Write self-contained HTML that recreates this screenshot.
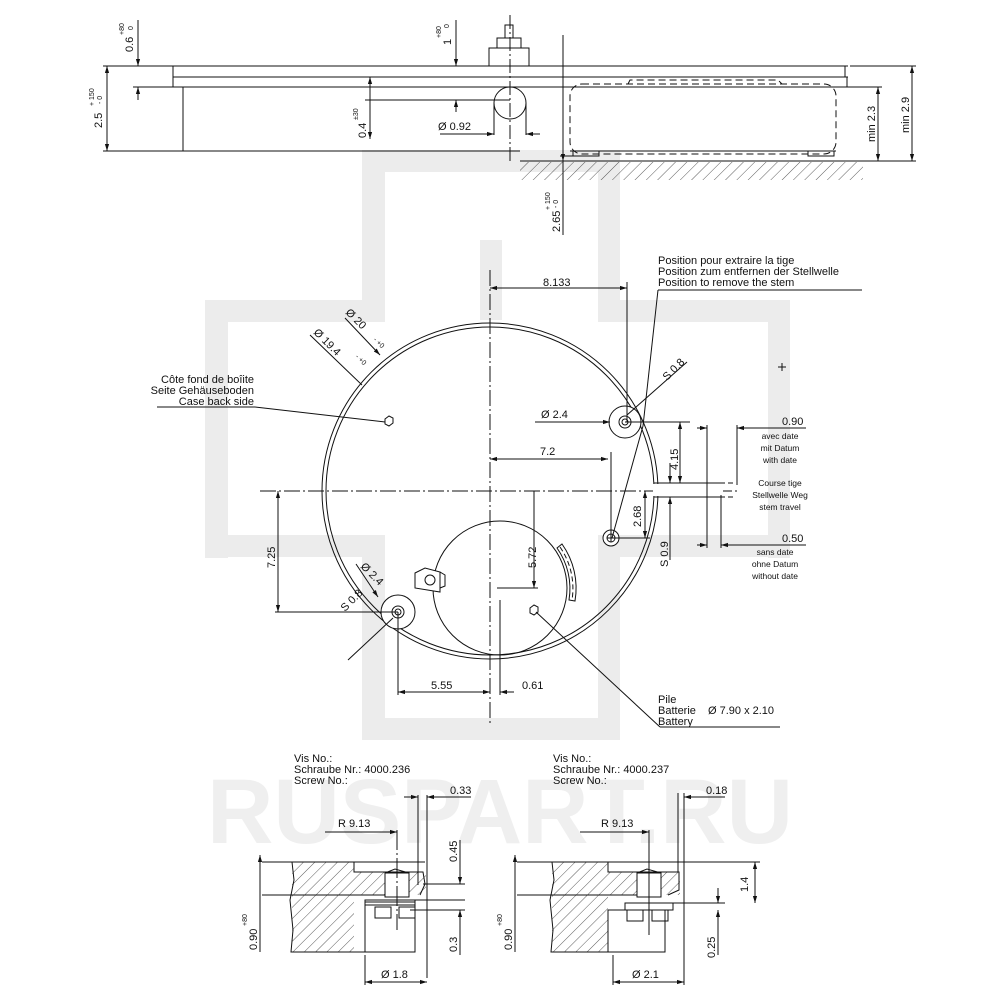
<!DOCTYPE html>
<html><head><meta charset="utf-8"><style>
html,body{margin:0;padding:0;background:#fff}
svg{display:block}
text{font-family:"Liberation Sans",sans-serif;fill:#111}
</style></head><body>
<svg width="1000" height="1000" viewBox="0 0 1000 1000" xmlns="http://www.w3.org/2000/svg">
<defs>
<marker id="a" viewBox="0 0 10 10" refX="10" refY="5" markerWidth="7" markerHeight="7" orient="auto-start-reverse"><path d="M0,2 L10,5 L0,8z" fill="#111"/></marker>
<pattern id="h" width="8" height="8" patternUnits="userSpaceOnUse" patternTransform="rotate(45)"><line x1="0" y1="0" x2="0" y2="8" stroke="#333" stroke-width="0.8"/></pattern>
</defs>
<g fill="#ececec">
<rect x="205" y="300" width="23" height="258"/>
<rect x="205" y="300" width="178" height="22"/>
<rect x="205" y="535" width="178" height="22"/>
<rect x="362" y="150" width="23" height="172"/>
<rect x="362" y="535" width="23" height="205"/>
<rect x="362" y="150" width="258" height="22"/>
<rect x="598" y="150" width="22" height="172"/>
<rect x="598" y="300" width="192" height="22"/>
<rect x="768" y="300" width="22" height="258"/>
<rect x="598" y="535" width="192" height="22"/>
<rect x="598" y="535" width="22" height="205"/>
<rect x="362" y="718" width="258" height="22"/>
<rect x="480" y="240" width="22" height="80"/>
</g>
<text x="500" y="843" text-anchor="middle" font-size="92" font-weight="bold" style="fill:#efefef">RUSPART.RU</text>

<g stroke="#111" stroke-width="1" fill="none">
<line x1="103" y1="66" x2="848" y2="66"/>
<line x1="173" y1="77" x2="848" y2="77"/>
<line x1="133" y1="87" x2="848" y2="87"/>
<line x1="103" y1="151" x2="520" y2="151"/>
<line x1="173" y1="66" x2="173" y2="87"/>
<line x1="183" y1="87" x2="183" y2="151"/>
<line x1="845" y1="66" x2="845" y2="77"/><line x1="847" y1="77" x2="847" y2="87"/>
<rect x="489" y="48" width="40" height="18"/>
<rect x="497" y="38" width="24" height="10"/>
<rect x="505" y="25" width="8" height="13"/>
<line x1="510" y1="15" x2="510" y2="162" stroke-dasharray="14,3,2,3"/>
<circle cx="510" cy="103" r="16"/>
<line x1="494" y1="103" x2="494" y2="135"/><line x1="526" y1="103" x2="526" y2="135"/>
<line x1="440" y1="134" x2="494" y2="134" marker-end="url(#a)"/>
<line x1="540" y1="134" x2="526" y2="134" marker-end="url(#a)"/>
<line x1="365" y1="100" x2="510" y2="100"/>
<line x1="107" y1="66" x2="107" y2="151" marker-start="url(#a)" marker-end="url(#a)"/>
<line x1="138" y1="20" x2="138" y2="66" marker-end="url(#a)"/>
<line x1="138" y1="87" x2="138" y2="100" marker-start="url(#a)"/>
<line x1="456" y1="20" x2="456" y2="66" marker-end="url(#a)"/>
<line x1="456" y1="100" x2="456" y2="112" marker-start="url(#a)"/>
<line x1="370" y1="77" x2="370" y2="139" marker-start="url(#a)" marker-end="url(#a)"/>
<line x1="563" y1="35" x2="563" y2="161" marker-end="url(#a)"/>
<line x1="563" y1="161" x2="563" y2="235"/>
<line x1="560" y1="156" x2="576" y2="156"/>
<rect x="570" y="84" width="266" height="70" rx="12" stroke-dasharray="7,4"/>
<path d="M628,84 L630,80 L778,80 L782,84" stroke-dasharray="7,4"/>
<line x1="570" y1="151" x2="836" y2="151"/>
<rect x="573" y="151" width="26" height="5"/><rect x="808" y="151" width="26" height="5"/>
<line x1="520" y1="161" x2="916" y2="161"/>
<rect x="520" y="162" width="343" height="18" fill="url(#h)" stroke="none"/>
<line x1="838" y1="87" x2="882" y2="87"/><line x1="850" y1="66" x2="916" y2="66"/>
<line x1="878" y1="87" x2="878" y2="161" marker-start="url(#a)" marker-end="url(#a)"/>
<line x1="912" y1="66" x2="912" y2="161" marker-start="url(#a)" marker-end="url(#a)"/>

<!-- MAIN VIEW -->
<line x1="490" y1="270" x2="490" y2="725" stroke-dasharray="16,3,2,3"/>
<line x1="260" y1="491" x2="740" y2="491" stroke-dasharray="16,3,2,3"/>
<circle cx="490" cy="491" r="168"/>
<circle cx="490" cy="491" r="164"/>
<circle cx="500" cy="588" r="67"/>
<path d="M557,548 L562,544 A76,76 0 0 1 575,601 L569,600 A70,70 0 0 0 557,548z" fill="#fff"/>
<path d="M560,547 A73,73 0 0 1 572,600" stroke-dasharray="5,3"/>
<path d="M415,573 L425,568 L440,572 L440,592 L415,588z" fill="#fff"/><circle cx="430" cy="580" r="5"/>
<path d="M440,572 L445,575 L445,586 L440,588"/>
<circle cx="625" cy="422" r="16" fill="#fff"/>
<circle cx="625" cy="422" r="6"/><circle cx="625" cy="422" r="3"/>
<circle cx="398" cy="612" r="17" fill="#fff"/>
<circle cx="398" cy="612" r="6"/><circle cx="398" cy="612" r="3"/>
<circle cx="611" cy="538" r="8" fill="#fff"/><circle cx="611" cy="538" r="4"/>
<line x1="607" y1="538" x2="615" y2="538"/><line x1="611" y1="534" x2="611" y2="542"/>
<path d="M385,419 l4,-3 l4,2 l0,5 l-4,3 l-4,-2z"/>
<path d="M530,608 l4,-3 l4,2 l0,5 l-4,3 l-4,-2z"/>
<rect x="653" y="484" width="70" height="12" fill="#fff" stroke="none"/>
<line x1="654" y1="483" x2="720" y2="483"/><line x1="654" y1="497" x2="720" y2="497"/>
<line x1="720" y1="483" x2="735" y2="483" stroke-dasharray="5,3"/><line x1="720" y1="497" x2="735" y2="497" stroke-dasharray="5,3"/>
<line x1="490" y1="288" x2="627" y2="288" marker-start="url(#a)" marker-end="url(#a)"/>
<line x1="627" y1="282" x2="627" y2="422"/>
<line x1="490" y1="459" x2="608" y2="459" marker-start="url(#a)" marker-end="url(#a)"/>
<line x1="611" y1="452" x2="611" y2="536"/>
<line x1="535" y1="422" x2="610" y2="422" marker-end="url(#a)"/>
<line x1="625" y1="422" x2="690" y2="422"/>
<line x1="680" y1="422" x2="680" y2="483" marker-start="url(#a)" marker-end="url(#a)"/>
<line x1="614" y1="538" x2="650" y2="538"/>
<line x1="645" y1="491" x2="645" y2="538" marker-start="url(#a)" marker-end="url(#a)"/>
<line x1="670" y1="463" x2="670" y2="483" marker-end="url(#a)"/>
<line x1="670" y1="497" x2="670" y2="560" marker-start="url(#a)"/>
<line x1="707" y1="425" x2="707" y2="548"/><line x1="737" y1="425" x2="737" y2="485"/>
<line x1="721" y1="495" x2="721" y2="548"/>
<line x1="697" y1="428" x2="707" y2="428" marker-end="url(#a)"/>
<line x1="806" y1="428" x2="737" y2="428" marker-end="url(#a)"/>
<line x1="697" y1="545" x2="707" y2="545" marker-end="url(#a)"/>
<line x1="806" y1="545" x2="721" y2="545" marker-end="url(#a)"/>
<line x1="643" y1="426" x2="658" y2="290"/><line x1="658" y1="290" x2="862" y2="290"/>
<line x1="612" y1="538" x2="643" y2="426"/>
<line x1="627" y1="415" x2="687" y2="362"/>
<line x1="278" y1="491" x2="278" y2="612" marker-start="url(#a)" marker-end="url(#a)"/>
<line x1="275" y1="612" x2="398" y2="612"/>
<line x1="398" y1="612" x2="398" y2="695"/>
<line x1="398" y1="692" x2="490" y2="692" marker-start="url(#a)" marker-end="url(#a)"/>
<line x1="500" y1="600" x2="500" y2="695"/>
<line x1="514" y1="692" x2="500" y2="692" marker-end="url(#a)"/>
<line x1="534" y1="491" x2="534" y2="588" marker-end="url(#a)"/>
<line x1="497" y1="588" x2="538" y2="588"/>
<line x1="157" y1="407" x2="255" y2="407"/><line x1="255" y1="407" x2="385" y2="422"/>
<line x1="536" y1="612" x2="660" y2="727"/><line x1="660" y1="727" x2="780" y2="727"/>
<line x1="345" y1="318" x2="380" y2="355" marker-end="url(#a)"/>
<line x1="310" y1="335" x2="362" y2="385"/>
<line x1="356" y1="564" x2="378" y2="597" marker-end="url(#a)"/>
<line x1="348" y1="660" x2="393" y2="618"/>
<line x1="782" y1="363" x2="782" y2="371"/><line x1="778" y1="367" x2="786" y2="367"/>

<!-- BOTTOM LEFT -->
<rect x="292" y="862" width="62" height="90" fill="url(#h)" stroke="none"/>
<rect x="354" y="872" width="72" height="23" fill="url(#h)" stroke="none"/>
<line x1="262" y1="862" x2="425" y2="862"/>
<line x1="262" y1="895" x2="390" y2="895"/>
<path d="M292,862 L294,880 L290,900 L293,930 L291,952 L415,952 L415,902 L365,902 L365,952"/>
<path d="M354,862 L354,872 L423,872 L425,884 L420,895"/>
<rect x="385" y="873" width="24" height="24" fill="#fff"/>
<path d="M385,873 L395,869 L409,873"/>
<rect x="375" y="907" width="16" height="11"/><rect x="399" y="907" width="16" height="11"/>
<rect x="365" y="900" width="50" height="5"/>
<line x1="397" y1="830" x2="397" y2="930" stroke-dasharray="20,3,2,3"/>
<line x1="325" y1="832" x2="397" y2="832" marker-end="url(#a)"/>
<line x1="418" y1="795" x2="418" y2="885"/><line x1="427" y1="795" x2="427" y2="978"/>
<line x1="404" y1="797" x2="418" y2="797" marker-end="url(#a)"/>
<line x1="471" y1="797" x2="427" y2="797" marker-end="url(#a)"/>
<line x1="423" y1="884" x2="465" y2="884"/><line x1="415" y1="900" x2="465" y2="900"/><line x1="410" y1="910" x2="465" y2="910"/>
<line x1="460" y1="840" x2="460" y2="884" marker-end="url(#a)"/>
<line x1="460" y1="910" x2="460" y2="955" marker-start="url(#a)"/>
<line x1="260" y1="855" x2="260" y2="952" marker-start="url(#a)"/>
<line x1="365" y1="955" x2="365" y2="985"/>
<line x1="365" y1="982" x2="427" y2="982" marker-start="url(#a)" marker-end="url(#a)"/>

<!-- BOTTOM RIGHT -->
<rect x="552" y="862" width="56" height="90" fill="url(#h)" stroke="none"/>
<rect x="608" y="872" width="72" height="23" fill="url(#h)" stroke="none"/>
<line x1="517" y1="862" x2="680" y2="862"/>
<line x1="517" y1="895" x2="640" y2="895"/>
<path d="M552,862 L554,880 L550,900 L553,930 L551,952 L665,952 L665,910 L608,910 L608,952"/>
<path d="M608,862 L608,872 L679,872 L679,890 L668,895"/>
<rect x="637" y="873" width="24" height="24" fill="#fff"/>
<path d="M637,873 L647,869 L661,873"/>
<rect x="627" y="910" width="16" height="11"/><rect x="652" y="910" width="16" height="11"/>
<rect x="625" y="903" width="48" height="7"/>
<line x1="649" y1="830" x2="649" y2="935"/>
<line x1="580" y1="832" x2="649" y2="832" marker-end="url(#a)"/>
<line x1="678" y1="793" x2="678" y2="872"/><line x1="684" y1="793" x2="684" y2="985"/>
<line x1="725" y1="797" x2="684" y2="797" marker-end="url(#a)"/>
<line x1="680" y1="862" x2="760" y2="862"/><line x1="673" y1="903" x2="725" y2="903"/>
<line x1="755" y1="862" x2="755" y2="903" marker-start="url(#a)" marker-end="url(#a)"/>
<line x1="718" y1="888" x2="718" y2="903" marker-end="url(#a)"/>
<line x1="718" y1="910" x2="718" y2="955" marker-start="url(#a)"/>
<line x1="515" y1="855" x2="515" y2="952" marker-start="url(#a)"/>
<line x1="613" y1="955" x2="613" y2="985"/>
<line x1="613" y1="982" x2="684" y2="982" marker-start="url(#a)" marker-end="url(#a)"/>
</g>

<g font-size="11">
<text transform="translate(133,52) rotate(-90)">0.6</text>
<text transform="translate(124,35) rotate(-90)" font-size="7">+80</text>
<text transform="translate(133,30) rotate(-90)" font-size="7">0</text>
<text transform="translate(451,45) rotate(-90)">1</text>
<text transform="translate(441,38) rotate(-90)" font-size="7">+80</text>
<text transform="translate(449,28) rotate(-90)" font-size="7">0</text>
<text transform="translate(102,128) rotate(-90)">2.5</text>
<text transform="translate(94,106) rotate(-90)" font-size="7">+ 150</text>
<text transform="translate(102,104) rotate(-90)" font-size="7">- 0</text>
<text transform="translate(366,138) rotate(-90)">0.4</text>
<text transform="translate(358,120) rotate(-90)" font-size="7">±30</text>
<text x="438" y="130">Ø 0.92</text>
<text transform="translate(560,232) rotate(-90)">2.65</text>
<text transform="translate(550,210) rotate(-90)" font-size="7">+ 150</text>
<text transform="translate(558,208) rotate(-90)" font-size="7">- 0</text>
<text transform="translate(875,142) rotate(-90)">min 2.3</text>
<text transform="translate(909,133) rotate(-90)">min 2.9</text>
<text x="543" y="286">8.133</text>
<text x="540" y="455">7.2</text>
<text x="541" y="418">Ø 2.4</text>
<text transform="translate(667,381) rotate(-45)">S 0.8</text>
<text transform="translate(678,470) rotate(-90)">4.15</text>
<text transform="translate(641,527) rotate(-90)">2.68</text>
<text transform="translate(668,567) rotate(-90)">S 0.9</text>
<text transform="translate(536,568) rotate(-90)">5.72</text>
<text transform="translate(275,568) rotate(-90)">7.25</text>
<text x="431" y="689">5.55</text>
<text x="522" y="689">0.61</text>
<text x="782" y="425">0.90</text>
<text x="782" y="542">0.50</text>
<text transform="translate(345,612) rotate(-45)">S 0.8</text>
<text transform="translate(360,567) rotate(45)">Ø 2.4</text>
<text transform="translate(345,313) rotate(45)">Ø 20</text>
<text transform="translate(313,333) rotate(45)">Ø 19.4</text>
<text transform="translate(373,340) rotate(45)" font-size="7">- +0</text>
<text transform="translate(355,357) rotate(45)" font-size="7">- +0</text>
<text x="658" y="264">Position pour extraire la tige</text>
<text x="658" y="275">Position zum entfernen der Stellwelle</text>
<text x="658" y="286">Position to remove the stem</text>
<text x="254" y="383" text-anchor="end">Côte fond de boîite</text>
<text x="254" y="394" text-anchor="end">Seite Gehäuseboden</text>
<text x="254" y="405" text-anchor="end">Case back side</text>
<text x="658" y="703">Pile</text>
<text x="658" y="714">Batterie</text>
<text x="658" y="725">Battery</text>
<text x="708" y="714">Ø 7.90 x 2.10</text>
<g font-size="8.5" text-anchor="middle">
<text x="780" y="439">avec date</text><text x="780" y="451">mit Datum</text><text x="780" y="463">with date</text>
<text x="780" y="486">Course tige</text><text x="780" y="498">Stellwelle Weg</text><text x="780" y="510">stem travel</text>
<text x="775" y="555">sans date</text><text x="775" y="567">ohne Datum</text><text x="775" y="579">without date</text>
</g>
<text x="294" y="762">Vis No.:</text>
<text x="294" y="773">Schraube Nr.: 4000.236</text>
<text x="294" y="784">Screw No.:</text>
<text x="553" y="762">Vis No.:</text>
<text x="553" y="773">Schraube Nr.: 4000.237</text>
<text x="553" y="784">Screw No.:</text>
<text x="450" y="794">0.33</text>
<text x="706" y="794">0.18</text>
<text x="338" y="827">R  9.13</text>
<text x="601" y="827">R  9.13</text>
<text transform="translate(457,862) rotate(-90)">0.45</text>
<text transform="translate(457,952) rotate(-90)">0.3</text>
<text transform="translate(715,958) rotate(-90)">0.25</text>
<text transform="translate(748,892) rotate(-90)">1.4</text>
<text x="381" y="978">Ø 1.8</text>
<text x="632" y="978">Ø 2.1</text>
<text transform="translate(257,950) rotate(-90)">0.90</text>
<text transform="translate(512,950) rotate(-90)">0.90</text>
<text transform="translate(247,926) rotate(-90)" font-size="7">+80</text>
<text transform="translate(502,926) rotate(-90)" font-size="7">+80</text>
</g>
</svg>
</body></html>
